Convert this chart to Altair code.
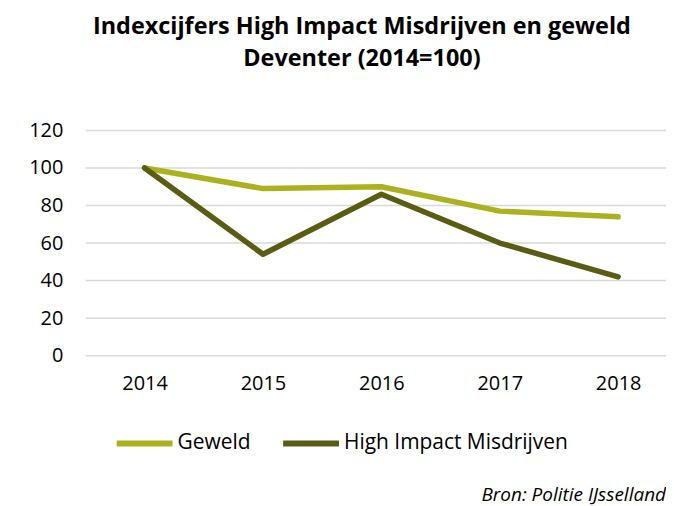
import altair as alt
import pandas as pd

years = ["2014", "2015", "2016", "2017", "2018"]
geweld = [100, 89, 90, 77, 74]
him = [100, 54, 86, 60, 42]
series_names = ["Geweld", "High Impact Misdrijven"]
series_colors = ["#abb11f", "#5b5c14"]
y_ticks = [0, 20, 40, 60, 80, 100, 120]

rows = []
for y, g, h in zip(years, geweld, him):
    rows.append({"jaar": y, "serie": series_names[0], "index": g})
    rows.append({"jaar": y, "serie": series_names[1], "index": h})
df = pd.DataFrame(rows)
grid_df = pd.DataFrame({"index": y_ticks})

font = "Open Sans"
W, H = 582, 226

y_scale = alt.Scale(domain=[0, 120], nice=False)
y_axis = alt.Axis(values=y_ticks, labelFontSize=20, labelFont=font,
                  labelColor="#000", domain=False, ticks=False, labelPadding=23,
                  grid=False, labelOverlap=False, labelFlush=False)

grid = alt.Chart(grid_df).mark_rule(color="#d9d9d9", strokeWidth=1.5).encode(
    y=alt.Y("index:Q", scale=y_scale, title=None, axis=y_axis),
    x=alt.value(0), x2=alt.value(W),
)

lines = alt.Chart(df).mark_line(strokeWidth=5.5, strokeCap="round", strokeJoin="round").encode(
    x=alt.X("jaar:O", title=None, sort=years,
            scale=alt.Scale(type="point", range=[59, 534], padding=0),
            axis=alt.Axis(labelAngle=0, labelFontSize=20, labelFont=font, labelColor="#000",
                          domain=False, ticks=False, labelPadding=18, grid=False)),
    y=alt.Y("index:Q", title=None, scale=y_scale, axis=y_axis),
    color=alt.Color("serie:N", sort=series_names,
                    scale=alt.Scale(domain=series_names, range=series_colors),
                    legend=alt.Legend(title=None, orient="none", legendX=28, legendY=283,
                                      direction="horizontal", symbolType="stroke",
                                      symbolStrokeWidth=6, symbolSize=3136,
                                      labelFontSize=21, labelFont=font, labelColor="#000",
                                      columnPadding=20, labelOffset=2, labelLimit=0)),
)

source = alt.Chart(pd.DataFrame({"t": ["Bron: Politie IJsselland"]})).mark_text(
    align="right", baseline="alphabetic", fontSize=19, fontStyle="italic", font=font, color="#000"
).encode(text="t:N", x=alt.value(582), y=alt.value(372))

chart = alt.layer(grid, lines, source).properties(
    width=W, height=H,
    title=alt.TitleParams(["Indexcijfers High Impact Misdrijven en geweld", "Deventer (2014=100)"],
                          fontSize=23.5, font=font, fontWeight="bold", color="#000",
                          anchor="middle", dx=-14, offset=50, lineHeight=32),
    autosize=alt.AutoSizeParams(type="none"),
    padding={"left": 78, "top": 122, "right": 0, "bottom": 150},
).configure_view(stroke=None).configure_axisY(labelOverlap=False)

chart.save("out.html", embed_options={"renderer": "svg", "actions": False})
